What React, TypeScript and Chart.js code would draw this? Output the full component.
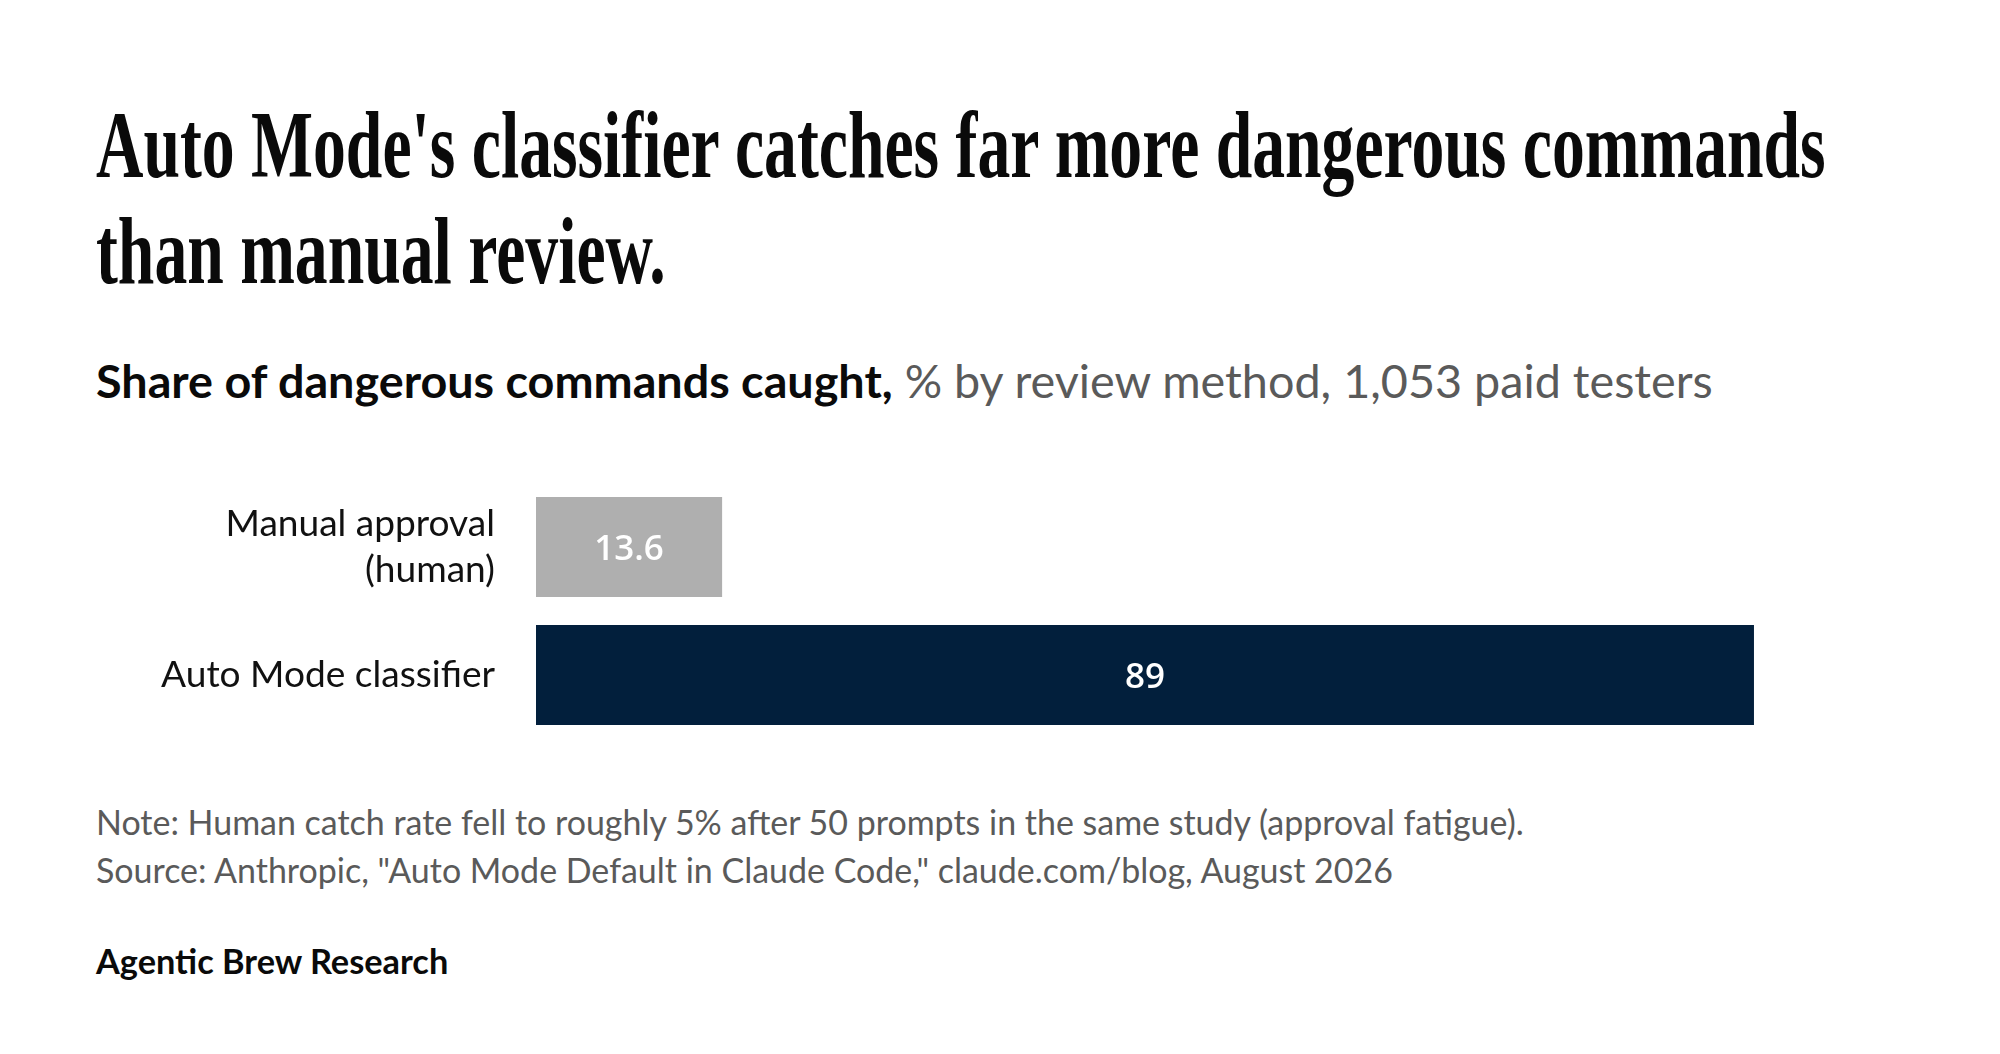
import React, { useEffect, useRef, useMemo } from "react";
import { Chart, registerables } from "chart.js";

Chart.register(...registerables);

// ---------- data ----------
const TITLE_LINES = [
  "Auto Mode's classifier catches far more dangerous commands",
  "than manual review.",
];
const SUBTITLE_BOLD = "Share of dangerous commands caught,";
const SUBTITLE_REST = " % by review method, 1,053 paid testers";
const CATEGORIES: (string | string[])[] = [["Manual approval", "(human)"], "Auto Mode classifier"];
const VALUES = [13.6, 89];
const VALUE_LABELS = ["13.6", "89"];
const BAR_COLORS = ["#afafaf", "#021f3c"];
const NOTE = "Note: Human catch rate fell to roughly 5% after 50 prompts in the same study (approval fatigue).";
const SOURCE = 'Source: Anthropic, "Auto Mode Default in Claude Code," claude.com/blog, August 2026';
const BRAND = "Agentic Brew Research";
const X_MIN = 0;
const X_MAX = 100;

// ---------- layout helpers ----------
const SANS = "Lato";
const SERIF = '"Liberation Serif"';
const PAGE_MARGIN = 8;

let mctx: CanvasRenderingContext2D | null = null;
function m(font: string, text: string) {
  if (!mctx) mctx = document.createElement("canvas").getContext("2d")!;
  mctx.font = font;
  return mctx.measureText(text);
}

type LineProps = {
  x: number;
  baseline: number;
  family: string;
  size: number;
  weight: number;
  color: string;
  scaleX?: number;
  children: React.ReactNode;
};

function Line({ x, baseline, family, size, weight, color, scaleX, children }: LineProps) {
  const mt = m(`${weight} ${size}px ${family}`, "Hg");
  const A = Math.round(mt.fontBoundingBoxAscent);
  const D = Math.round(mt.fontBoundingBoxDescent);
  return (
    <div
      style={{
        position: "absolute",
        left: x - PAGE_MARGIN,
        top: baseline - A - PAGE_MARGIN,
        fontFamily: family,
        fontSize: size,
        fontWeight: weight,
        lineHeight: `${A + D}px`,
        color,
        whiteSpace: "nowrap",
        transform: scaleX ? `scaleX(${scaleX})` : undefined,
        transformOrigin: "left top",
      }}
    >
      {children}
    </div>
  );
}

function BarChart({ tickSize }: { tickSize: number }) {
  const ref = useRef<HTMLCanvasElement>(null);
  useEffect(() => {
    if (!ref.current) return;
    const valuePlugin = {
      id: "valueLabels",
      afterDatasetsDraw(chart: any) {
        const ctx = chart.ctx;
        const meta = chart.getDatasetMeta(0);
        ctx.save();
        ctx.font = `600 35px "Open Sans"`;
        ctx.fillStyle = "#ffffff";
        ctx.textAlign = "center";
        ctx.textBaseline = "alphabetic";
        const capH = ctx.measureText("8").actualBoundingBoxAscent;
        meta.data.forEach((bar: any, i: number) => {
          ctx.fillText(VALUE_LABELS[i], (bar.x + bar.base) / 2, bar.y + capH / 2);
        });
        ctx.restore();
      },
    };
    const chart = new Chart(ref.current, {
      type: "bar",
      data: {
        labels: CATEGORIES as any,
        datasets: [
          {
            data: VALUES,
            backgroundColor: BAR_COLORS,
            borderWidth: 0,
            barPercentage: 100 / 128,
            categoryPercentage: 1,
          },
        ],
      },
      options: {
        indexAxis: "y",
        animation: false,
        responsive: false,
        devicePixelRatio: 1,
        layout: { padding: { left: 0, right: 87.5, top: 0, bottom: 0 } },
        plugins: { legend: { display: false }, tooltip: { enabled: false } },
        scales: {
          x: { display: false, min: X_MIN, max: X_MAX },
          y: {
            grid: { display: false, drawTicks: false, tickLength: 0 },
            border: { display: false },
            ticks: {
              color: "#111111",
              padding: 41,
              font: { family: SANS, size: tickSize, lineHeight: 46 / tickSize },
            },
            afterFit: (s: any) => {
              s.width = 528;
              s.paddingTop = 0;
              s.paddingBottom = 0;
            },
          },
        },
      },
      plugins: [valuePlugin],
    } as any);
    return () => chart.destroy();
  }, [tickSize]);
  return (
    <canvas
      ref={ref}
      width={1984}
      height={256}
      style={{ position: "absolute", left: 0, top: 483 - PAGE_MARGIN, width: 1984, height: 256 }}
    />
  );
}

export default function App() {
  const sizes = useMemo(() => {
    const titleW = m(`700 95px ${SERIF}`, TITLE_LINES[0]).width;
    const subW =
      m(`700 100px ${SANS}`, SUBTITLE_BOLD).width + m(`400 100px ${SANS}`, SUBTITLE_REST).width;
    const tickW = m(`400 100px ${SANS}`, "Auto Mode classifier").width;
    const noteW = m(`400 100px ${SANS}`, NOTE).width;
    const brandW = m(`700 100px ${SANS}`, BRAND).width;
    return {
      titleScale: 1732 / titleW,
      sub: (100 * 1620) / subW,
      tick: (100 * 334) / tickW,
      note: (100 * 1431) / noteW,
      brand: (100 * 353) / brandW,
    };
  }, []);

  return (
    <div style={{ position: "relative", width: 1984, height: 1038, overflow: "hidden", background: "#fff" }}>
      <Line x={96} baseline={177} family={SERIF} size={95} weight={700} color="#0a0a0a" scaleX={sizes.titleScale}>
        {TITLE_LINES[0]}
      </Line>
      <Line x={96} baseline={283} family={SERIF} size={95} weight={700} color="#0a0a0a" scaleX={sizes.titleScale}>
        {TITLE_LINES[1]}
      </Line>
      <Line x={96} baseline={398} family={SANS} size={sizes.sub} weight={400} color="#5a5a5a">
        <span style={{ fontWeight: 700, color: "#0a0a0a" }}>{SUBTITLE_BOLD}</span>
        {SUBTITLE_REST}
      </Line>
      <BarChart tickSize={sizes.tick} />
      <Line x={96} baseline={835} family={SANS} size={sizes.note} weight={400} color="#5a5a5a">
        {NOTE}
      </Line>
      <Line x={96} baseline={883} family={SANS} size={sizes.note} weight={400} color="#5a5a5a">
        {SOURCE}
      </Line>
      <Line x={96} baseline={974} family={SANS} size={sizes.brand} weight={700} color="#0a0a0a">
        {BRAND}
      </Line>
    </div>
  );
}
